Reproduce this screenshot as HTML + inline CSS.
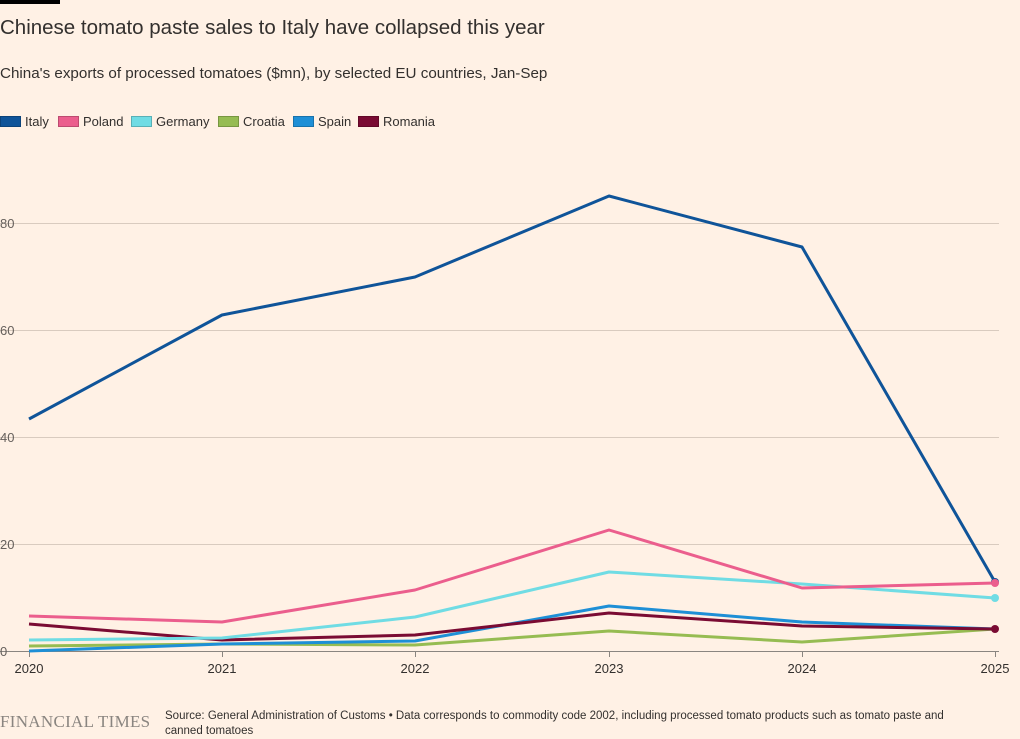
<!DOCTYPE html>
<html><head><meta charset="utf-8"><style>
body{margin:0;width:1020px;height:739px;background:#FFF1E5;font-family:"Liberation Sans",sans-serif;overflow:hidden;position:relative;color:#33302e}
.t{position:absolute;left:0;top:16px;font-size:20.5px;color:#33302e}
.s{position:absolute;left:0;top:65px;font-size:15.2px;color:#33302e}
.bar{position:absolute;left:0;top:0;width:60px;height:4px;background:#000}
.lg{position:absolute;top:114px;font-size:13px;display:flex;align-items:center}
.lg i{display:inline-block;width:19px;height:9px;margin-right:4px;border:1px solid rgba(0,0,0,.2)}
.ft{position:absolute;left:0;top:712px;font-family:"Liberation Serif",serif;font-size:17px;color:#8a8580;letter-spacing:0.3px}
.src{position:absolute;left:165px;top:709px;font-size:11.5px;line-height:15px;width:805px;color:#33302e}
</style></head><body>
<div class="bar"></div>
<div class="t">Chinese tomato paste sales to Italy have collapsed this year</div>
<div class="s">China's exports of processed tomatoes ($mn), by selected EU countries, Jan-Sep</div>
<div class="lg" style="left:0"><i style="background:#0f5499"></i>Italy</div>
<div class="lg" style="left:58px"><i style="background:#eb5e8d"></i>Poland</div>
<div class="lg" style="left:131px"><i style="background:#70dce4"></i>Germany</div>
<div class="lg" style="left:218px"><i style="background:#96bc52"></i>Croatia</div>
<div class="lg" style="left:293px"><i style="background:#1e8fd6"></i>Spain</div>
<div class="lg" style="left:358px"><i style="background:#7a0b33"></i>Romania</div>
<svg width="1020" height="739" style="position:absolute;left:0;top:0">
<g stroke="#d9cbbf" stroke-width="1">
<line x1="0" x2="999" y1="223.5" y2="223.5"/><line x1="0" x2="999" y1="330.5" y2="330.5"/>
<line x1="0" x2="999" y1="437.5" y2="437.5"/><line x1="0" x2="999" y1="544.5" y2="544.5"/>
</g>
<line x1="0" x2="999" y1="651.5" y2="651.5" stroke="#8a8580"/>
<g stroke="#8a8580"><line x1="29.5" x2="29.5" y1="651" y2="657"/><line x1="222.5" x2="222.5" y1="651" y2="657"/><line x1="415.5" x2="415.5" y1="651" y2="657"/><line x1="609.5" x2="609.5" y1="651" y2="657"/><line x1="802.5" x2="802.5" y1="651" y2="657"/><line x1="995.5" x2="995.5" y1="651" y2="657"/></g>
<g font-size="13" fill="#66605c">
<text x="0" y="228">80</text><text x="0" y="335">60</text><text x="0" y="442">40</text><text x="0" y="549">20</text><text x="0" y="656">0</text>
</g>
<g font-size="13" fill="#33302e" text-anchor="middle">
<text x="29" y="673">2020</text><text x="222" y="673">2021</text><text x="415" y="673">2022</text><text x="609" y="673">2023</text><text x="802" y="673">2024</text><text x="995" y="673">2025</text>
</g>
<g fill="none" stroke-width="3" stroke-linejoin="round">
<polyline stroke="#96bc52" points="29,646 222,644 415,645 609,631 802,642 995,629"/>
<polyline stroke="#1e8fd6" points="29,651 222,644 415,641 609,606 802,622 995,629"/>
<polyline stroke="#7a0b33" points="29,624 222,640 415,635 609,613 802,626 995,629"/>
<polyline stroke="#70dce4" points="29,640 222,638 415,617 609,572 802,584 995,598"/>
<polyline stroke="#eb5e8d" points="29,616 222,622 415,590 609,530 802,588 995,583"/>
<polyline stroke="#0f5499" points="29,419 222,315 415,277 609,196 802,247 995,582"/>
</g>
<circle cx="995" cy="582" r="4" fill="#0f5499"/>
<circle cx="995" cy="583" r="4" fill="#eb5e8d"/>
<circle cx="995" cy="598" r="4" fill="#70dce4"/>
<circle cx="995" cy="629" r="4" fill="#7a0b33"/>
</svg>
<div class="ft">FINANCIAL TIMES</div>
<div class="src">Source: General Administration of Customs • Data corresponds to commodity code 2002, including processed tomato products such as tomato paste and canned tomatoes</div>
</body></html>
